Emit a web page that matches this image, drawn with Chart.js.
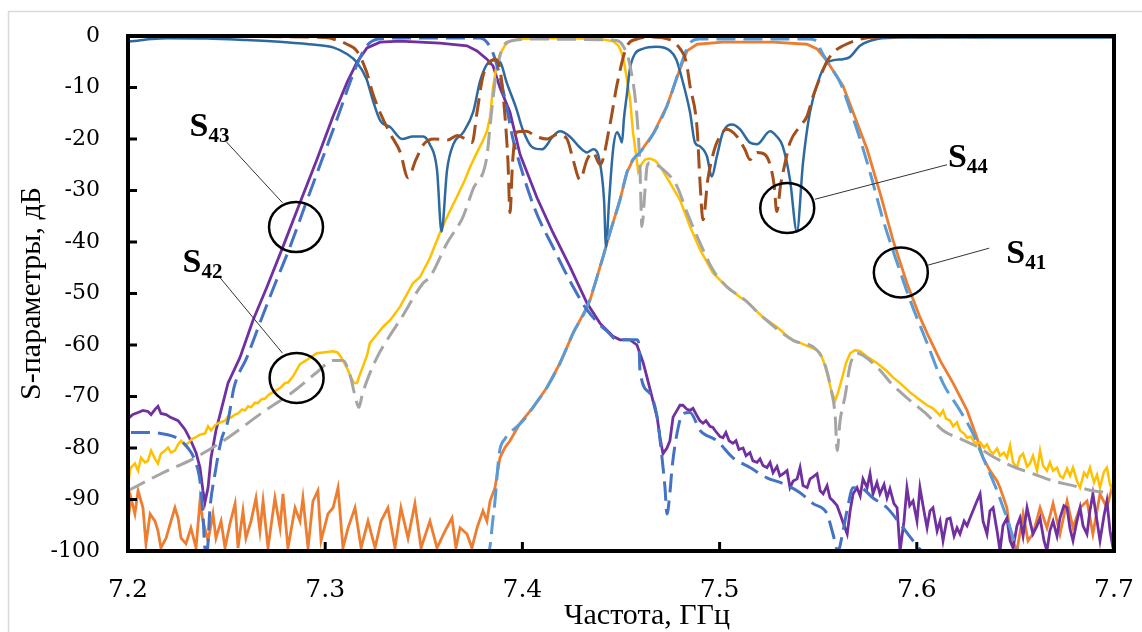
<!DOCTYPE html>
<html><head><meta charset="utf-8">
<script src="https://cdn.jsdelivr.net/npm/chart.js@4"></script>
<style>html,body{margin:0;padding:0;background:#fff;}#wrap{position:relative;width:1142px;height:632px;}</style>
</head><body><div id="wrap"><canvas id="c" width="1142" height="632"></canvas></div>
<script>
// ---- axis ticks ----
const xTicks = [7.2, 7.3, 7.4, 7.5, 7.6, 7.7];
const yTicks = [0, -10, -20, -30, -40, -50, -60, -70, -80, -90, -100];

// ---- S44 measured [GHz, dB] ----
const s44Meas = [[7.200,-1.1],[7.205,-0.9],[7.212,-0.6],[7.220,-0.45],[7.240,-0.5],[7.260,-0.8],[7.280,-1.2],[7.295,-1.7],[7.304,-2.2],[7.311,-3.5],[7.316,-5.1],[7.321,-8.4],[7.324,-12.3],[7.328,-16.5],[7.333,-17.7],[7.339,-20],[7.3445,-19.5],[7.3496,-19.5],[7.353,-21],[7.3567,-26],[7.359,-38],[7.3618,-26],[7.365,-21],[7.370,-18.7],[7.375,-14.8],[7.3785,-8.8],[7.382,-5.5],[7.385,-4.7],[7.3886,-5],[7.392,-9],[7.397,-14.2],[7.400,-18],[7.405,-21.6],[7.410,-22],[7.4155,-19.5],[7.419,-18.5],[7.424,-19.5],[7.429,-21.6],[7.4328,-22.6],[7.436,-22],[7.439,-24],[7.4414,-31.8],[7.4424,-41],[7.444,-31.8],[7.446,-22],[7.448,-18.7],[7.4495,-19.7],[7.4505,-20.7],[7.4515,-16],[7.453,-11.3],[7.4545,-6.4],[7.457,-3.5],[7.461,-2.5],[7.468,-2.1],[7.475,-2.9],[7.478,-4.5],[7.481,-8.4],[7.485,-14.8],[7.4875,-20.7],[7.490,-21.4],[7.4936,-23.4],[7.496,-27.3],[7.4986,-23.4],[7.5017,-18.7],[7.5063,-17.2],[7.5103,-18.1],[7.5154,-20.7],[7.519,-21],[7.5256,-18.5],[7.529,-19.5],[7.532,-21.4],[7.5357,-27.9],[7.5392,-38],[7.5423,-24.6],[7.5458,-14.8],[7.5509,-7.8],[7.555,-5.1],[7.5626,-4.5],[7.566,-4.1],[7.5712,-1.9],[7.580,-0.6],[7.5915,-0.3],[7.650,-0.3],[7.700,-0.3]];

// ---- S44 simulated ----
const s44Sim = [[7.200,-0.1],[7.250,-0.1],[7.300,-0.3],[7.306,-0.8],[7.311,-1.6],[7.316,-2.9],[7.321,-7],[7.324,-11],[7.328,-15],[7.333,-19],[7.338,-22.5],[7.342,-27.5],[7.346,-24],[7.350,-21],[7.355,-20],[7.362,-20.2],[7.367,-19.3],[7.370,-19.8],[7.3745,-20.7],[7.377,-14.8],[7.380,-7.8],[7.3835,-5.1],[7.386,-4.5],[7.3886,-6.4],[7.391,-14.8],[7.3927,-24.6],[7.3937,-34.3],[7.395,-24.6],[7.397,-18.7],[7.402,-18.5],[7.407,-19.5],[7.4125,-20],[7.4176,-19.1],[7.4226,-20],[7.4257,-24],[7.4292,-27.9],[7.4328,-24],[7.4358,-22.6],[7.4394,-25],[7.4444,-17.2],[7.448,-9.4],[7.453,-2],[7.458,-0.6],[7.4647,-0.2],[7.474,-0.6],[7.480,-2.5],[7.483,-4.9],[7.485,-9.7],[7.4886,-18],[7.490,-27.9],[7.4916,-35.7],[7.494,-27.9],[7.496,-24],[7.4986,-20.7],[7.5037,-18.1],[7.5088,-19.5],[7.5128,-22],[7.5154,-24],[7.519,-22.6],[7.523,-23],[7.5256,-25],[7.5276,-28.8],[7.529,-34.1],[7.531,-28.8],[7.533,-25],[7.5357,-20.7],[7.5408,-17.5],[7.5443,-15.6],[7.5474,-11.7],[7.551,-8],[7.5545,-4.9],[7.5585,-2.9],[7.5626,-1.9],[7.5712,-0.6],[7.580,-0.2],[7.700,-0.1]];

// ---- S41 measured ----
const s41Meas = [[7.2000,-94.2],[7.2015,-89.7],[7.2035,-92.8],[7.2051,-88.3],[7.2076,-91.6],[7.2091,-98.6],[7.2112,-92.8],[7.2137,-94.2],[7.2152,-96.1],[7.2167,-99.4],[7.2193,-97.5],[7.2218,-94.2],[7.2238,-91.6],[7.2254,-93.6],[7.2269,-97.5],[7.2294,-98.6],[7.2319,-95.5],[7.2345,-99.4],[7.2365,-90.3],[7.2380,-94.2],[7.2406,-98],[7.2431,-92.8],[7.2446,-97.5],[7.2472,-94.2],[7.2492,-99.4],[7.2517,-94.7],[7.2543,-90.8],[7.2558,-99.4],[7.2583,-92.2],[7.2598,-97.5],[7.2624,-94.2],[7.2649,-89.7],[7.2669,-96.1],[7.2685,-90.3],[7.2710,-99.4],[7.2745,-89.7],[7.2771,-95.5],[7.2786,-88.9],[7.2811,-99.4],[7.2847,-91.6],[7.2872,-94.2],[7.2887,-89.7],[7.2913,-99.4],[7.2938,-90.3],[7.2963,-88.3],[7.2979,-98],[7.3014,-92.8],[7.3040,-91.6],[7.3065,-87.7],[7.3090,-99.4],[7.3116,-95.5],[7.3151,-91.6],[7.3182,-99.4],[7.3217,-94.2],[7.3253,-99.4],[7.3283,-94.2],[7.3318,-91.6],[7.3354,-99.4],[7.3384,-91.6],[7.3420,-97.5],[7.3455,-90.8],[7.3486,-99.4],[7.3531,-94.2],[7.3567,-99.4],[7.3608,-96.1],[7.3643,-93.6],[7.3663,-99.4],[7.3684,-95.5],[7.3719,-96.7],[7.3744,-99.4],[7.3770,-95.5],[7.3800,-92.2],[7.3820,-94.2],[7.3836,-90.3],[7.3861,-87.7],[7.3886,-81.9],[7.3912,-79.9],[7.3937,-78.6],[7.3988,-75.2],[7.4054,-72.1],[7.4125,-68.2],[7.4191,-63.5],[7.4257,-57.7],[7.4328,-52.6],[7.4343,-51.3],[7.4409,-42.9],[7.4444,-38.2],[7.4495,-31.8],[7.4530,-26.5],[7.4561,-24],[7.4596,-22.6],[7.4662,-19.1],[7.4733,-13.6],[7.4799,-6.4],[7.4835,-2.9],[7.4886,-1.6],[7.5017,-1.2],[7.5271,-1.2],[7.5443,-1.6],[7.5494,-2.5],[7.5545,-4.9],[7.5626,-9.7],[7.5677,-14.8],[7.5748,-22],[7.5813,-30.4],[7.5879,-39.6],[7.5950,-48],[7.6016,-54.6],[7.6052,-57.7],[7.6118,-63],[7.6184,-67.4],[7.6255,-72.7],[7.6305,-78],[7.6336,-81.9],[7.6371,-84.4],[7.6407,-86.4],[7.6422,-87.7],[7.6457,-91.6],[7.6473,-96.7],[7.6508,-100],[7.6539,-92.8],[7.6564,-98],[7.6589,-96.7],[7.6625,-91.6],[7.6660,-95.5],[7.6691,-90.8],[7.6726,-96.7],[7.6762,-90.3],[7.6792,-95.5],[7.6828,-91.6],[7.6863,-90.3],[7.6893,-96.7],[7.6929,-88.9],[7.6964,-91.6],[7.6995,-86.9]];

// ---- S41 simulated ----
const s41Sim = [[7.200,-100],[7.383,-100],[7.3850,-94],[7.3861,-90.3],[7.3876,-83.4],[7.3886,-80.3],[7.3912,-78.2],[7.3937,-77],[7.3962,-76.2],[7.4003,-74.7],[7.4054,-72.1],[7.4125,-68.2],[7.4191,-63.5],[7.4257,-57.7],[7.4328,-52.6],[7.4409,-42.9],[7.4444,-38.2],[7.4495,-31.8],[7.4530,-26.5],[7.4561,-24],[7.4596,-22.6],[7.4662,-19.1],[7.4733,-13.6],[7.4799,-6.2],[7.4835,-2.4],[7.4860,-1.0],[7.4900,-0.6],[7.5450,-0.6],[7.5494,-1.0],[7.5510,-2.5],[7.5560,-5.8],[7.5611,-9],[7.5661,-14.2],[7.5712,-20],[7.5763,-26.5],[7.5829,-35.7],[7.5900,-44],[7.5966,-51.3],[7.6052,-59.6],[7.6133,-67.4],[7.6219,-72.7],[7.6285,-77.2],[7.6336,-81.9],[7.6407,-88.3],[7.6457,-93.6],[7.6523,-100],[7.700,-100]];

// ---- S42 measured ----
const s42Meas = [[7.2000,-87.7],[7.2010,-84.4],[7.2015,-83.8],[7.2035,-83],[7.2051,-84.4],[7.2066,-81.9],[7.2086,-82.8],[7.2101,-82.5],[7.2117,-80.5],[7.2137,-82.1],[7.2152,-83],[7.2167,-81.1],[7.2188,-80.5],[7.2203,-79.9],[7.2218,-80.9],[7.2238,-80.5],[7.2254,-79.3],[7.2269,-78.6],[7.2289,-79.5],[7.2304,-79.1],[7.2325,-78.2],[7.2340,-78],[7.2365,-77.4],[7.2390,-77.2],[7.2406,-75.8],[7.2421,-76.6],[7.2441,-75.6],[7.2456,-75.2],[7.2477,-74.9],[7.2492,-74.7],[7.2507,-73.9],[7.2522,-74.1],[7.2543,-73.5],[7.2558,-73.3],[7.2578,-72.5],[7.2593,-72.7],[7.2609,-71.9],[7.2624,-72.1],[7.2644,-71.2],[7.2659,-71.3],[7.2674,-70.6],[7.2695,-70.4],[7.2710,-69.8],[7.2725,-69.4],[7.2751,-68.8],[7.2776,-68.2],[7.2796,-67.4],[7.2811,-67.3],[7.2837,-66.1],[7.2872,-63.7],[7.2903,-63],[7.2933,-62.2],[7.2958,-61.6],[7.2999,-61.4],[7.3040,-61.2],[7.3060,-61.4],[7.3075,-62],[7.3095,-63.4],[7.3111,-64.5],[7.3131,-66.3],[7.3146,-67.4],[7.3161,-67.4],[7.3176,-65.7],[7.3192,-64.1],[7.3212,-62],[7.3227,-59.6],[7.3263,-57.9],[7.3293,-56.5],[7.3329,-55.2],[7.3379,-52.6],[7.3445,-48],[7.3481,-46.8],[7.3531,-43.1],[7.3582,-38.2],[7.3623,-34.7],[7.3668,-31.2],[7.3709,-27.9],[7.3734,-25.5],[7.3770,-22.6],[7.3800,-20.3],[7.3820,-18.5],[7.3836,-15.8],[7.3851,-10],[7.3866,-6.4],[7.3886,-3.5],[7.3912,-1.8],[7.3937,-1],[7.3988,-0.6],[7.4191,-0.4],[7.4394,-0.6],[7.4459,-1],[7.4485,-1.8],[7.4500,-2.9],[7.4515,-4.9],[7.4530,-8.4],[7.4546,-12.3],[7.4561,-18.7],[7.4576,-23],[7.4587,-26.3],[7.4602,-25],[7.4622,-24],[7.4647,-23.8],[7.4673,-24.2],[7.4698,-25.3],[7.4749,-28.5],[7.4799,-31.8],[7.4850,-37],[7.4901,-41.5],[7.4966,-46],[7.5037,-48.7],[7.5103,-50.7],[7.5139,-51.5],[7.5180,-53.2],[7.5220,-54.6],[7.5256,-55.6],[7.5291,-56.5],[7.5332,-57.9],[7.5373,-59.1],[7.5408,-59.6],[7.5459,-60.4],[7.5494,-61],[7.5510,-61.6],[7.5530,-63.5],[7.5545,-65.5],[7.5566,-68.8],[7.5586,-70.8],[7.5601,-69.2],[7.5622,-66.3],[7.5642,-63.4],[7.5662,-61.6],[7.5687,-61],[7.5713,-61.2],[7.5753,-62.4],[7.5798,-63.5],[7.5849,-65.1],[7.5879,-66.3],[7.5915,-67.4],[7.5966,-69.2],[7.6006,-70.4],[7.6052,-71.7],[7.6082,-72.3],[7.6103,-73.1],[7.6118,-73.7],[7.6133,-72.7],[7.6148,-74.3],[7.6169,-74.7],[7.6184,-75.8],[7.6204,-75],[7.6219,-76.6],[7.6240,-77.2],[7.6255,-78],[7.6275,-77.8],[7.6290,-78.8],[7.6305,-79.1],[7.6321,-78.9],[7.6341,-79.9],[7.6356,-79.3],[7.6371,-80.5],[7.6387,-81.1],[7.6407,-80.1],[7.6422,-81.5],[7.6442,-80.9],[7.6457,-81.9],[7.6473,-79.5],[7.6488,-82.8],[7.6508,-83.8],[7.6523,-81.7],[7.6539,-81.1],[7.6559,-83.6],[7.6574,-83],[7.6589,-81.5],[7.6610,-84.4],[7.6625,-80.5],[7.6640,-83.4],[7.6660,-84.4],[7.6675,-82.8],[7.6691,-84.4],[7.6711,-83.8],[7.6726,-85.4],[7.6742,-85.8],[7.6762,-84],[7.6777,-85.4],[7.6792,-83.8],[7.6812,-86.4],[7.6828,-87.7],[7.6848,-84.8],[7.6863,-85.6],[7.6878,-83.8],[7.6899,-86.7],[7.6914,-85.2],[7.6929,-87.7],[7.6949,-84.6],[7.6964,-83.8],[7.6980,-87.1],[7.6995,-88.3]];

// ---- S42 simulated ----
const s42Sim = [[7.2000,-88.3],[7.2167,-85],[7.2340,-81.9],[7.2507,-78],[7.2674,-73.3],[7.2847,-68.8],[7.2958,-65.3],[7.3040,-63],[7.3090,-63],[7.3126,-65.9],[7.3151,-69.8],[7.3171,-72.1],[7.3187,-69.8],[7.3212,-66.9],[7.3263,-62.4],[7.3329,-58.1],[7.3379,-55.2],[7.3496,-48],[7.3531,-46.8],[7.3618,-40.2],[7.3699,-35.1],[7.3749,-29.8],[7.3820,-23.4],[7.3836,-17.5],[7.3861,-9],[7.3886,-3.9],[7.3922,-1.2],[7.4039,-0.6],[7.4459,-0.8],[7.4510,-1.9],[7.4546,-5.8],[7.4581,-15.6],[7.4596,-25.3],[7.4606,-37],[7.4622,-29.8],[7.4632,-25.3],[7.4647,-24.6],[7.4713,-25.9],[7.4784,-29.2],[7.4835,-34.3],[7.4901,-40.2],[7.4966,-45.4],[7.5037,-48.7],[7.5129,-51.3],[7.5220,-54.6],[7.5373,-59.1],[7.5494,-61],[7.5535,-63.9],[7.5566,-68.8],[7.5586,-73.7],[7.5596,-80.5],[7.5611,-74.7],[7.5637,-69.8],[7.5662,-63.9],[7.5697,-61.6],[7.5798,-64.3],[7.5879,-67.8],[7.5966,-70.8],[7.6052,-73.5],[7.6133,-76.6],[7.6219,-78.2],[7.6305,-79.7],[7.6387,-81.7],[7.6488,-83.6],[7.6589,-85],[7.6691,-86.4],[7.6792,-87.3],[7.6893,-88.3],[7.6995,-88.7]];

// ---- S43 measured ----
const s43Meas = [[7.2000,-74.3],[7.2025,-73.5],[7.2051,-73.1],[7.2076,-72.7],[7.2101,-72.9],[7.2117,-73.5],[7.2137,-72.5],[7.2152,-71.9],[7.2167,-73.3],[7.2193,-73.5],[7.2218,-74.1],[7.2254,-74.7],[7.2289,-76.4],[7.2319,-78.6],[7.2345,-80.9],[7.2365,-83.8],[7.2380,-88.3],[7.2390,-90.6],[7.2406,-87.7],[7.2421,-81.9],[7.2446,-76.6],[7.2472,-72.7],[7.2507,-67.4],[7.2568,-62.4],[7.2634,-55.2],[7.2705,-48.7],[7.2786,-40.9],[7.2872,-32.4],[7.2958,-24],[7.3040,-15.6],[7.3111,-9],[7.3161,-5.1],[7.3212,-2.3],[7.3278,-1.2],[7.3379,-1.0],[7.3582,-1.4],[7.3719,-1.9],[7.3770,-2.9],[7.3820,-4.5],[7.3851,-5.8],[7.3886,-10],[7.3937,-14.8],[7.3988,-23],[7.4074,-31.4],[7.4155,-38.2],[7.4241,-44.8],[7.4328,-51.9],[7.4394,-55.8],[7.4459,-58.3],[7.4495,-59],[7.4546,-59],[7.4581,-60],[7.4612,-63.4],[7.4632,-66.3],[7.4662,-70.8],[7.4683,-74],[7.4698,-78],[7.4713,-81.1],[7.4733,-80],[7.4748,-78.6],[7.4764,-74],[7.4784,-72.7],[7.4799,-71.7],[7.4814,-71.7],[7.4835,-72.5],[7.4850,-72.7],[7.4865,-72.3],[7.4885,-73.7],[7.4900,-74.7],[7.4916,-75.2],[7.4931,-74.7],[7.4951,-75.8],[7.4966,-76],[7.4981,-76.8],[7.5002,-77.8],[7.5017,-78],[7.5032,-77],[7.5048,-78.6],[7.5068,-79.1],[7.5083,-78.6],[7.5098,-80.3],[7.5119,-80],[7.5134,-81.5],[7.5154,-80.9],[7.5169,-82.5],[7.5190,-82.8],[7.5205,-82.1],[7.5220,-83.4],[7.5240,-83.8],[7.5256,-82.8],[7.5271,-84.8],[7.5291,-83.6],[7.5306,-85.4],[7.5322,-85],[7.5342,-84.4],[7.5357,-87.7],[7.5373,-86.4],[7.5393,-86],[7.5408,-83.8],[7.5423,-87.3],[7.5444,-87.7],[7.5459,-86],[7.5474,-85.6],[7.5494,-85],[7.5510,-88.3],[7.5525,-88.9],[7.5545,-87.3],[7.5560,-89.7],[7.5576,-90.3],[7.5596,-91.2],[7.5611,-92.8],[7.5632,-95.1],[7.5647,-96.7],[7.5662,-92.2],[7.5677,-88.9],[7.5697,-87.7],[7.5713,-89.3],[7.5727,-86],[7.5748,-87.7],[7.5763,-85],[7.5778,-88.9],[7.5798,-86.7],[7.5813,-88.9],[7.5834,-87.1],[7.5849,-89.7],[7.5864,-87.9],[7.5884,-90.8],[7.5900,-91.6],[7.5915,-100],[7.5935,-94.2],[7.5950,-87.7],[7.5964,-91.2],[7.5981,-90.3],[7.6001,-94.2],[7.6016,-87.7],[7.6037,-92.4],[7.6052,-95.5],[7.6067,-92.2],[7.6082,-91.6],[7.6103,-96.1],[7.6118,-94.2],[7.6133,-98],[7.6153,-93.8],[7.6169,-93.6],[7.6189,-97.1],[7.6204,-95.5],[7.6219,-96.7],[7.6240,-94.2],[7.6255,-95.1],[7.6270,-93.6],[7.6285,-92.2],[7.6305,-90.3],[7.6321,-88.9],[7.6336,-94.2],[7.6356,-96.7],[7.6371,-92.2],[7.6387,-91.6],[7.6407,-96.1],[7.6422,-100],[7.6437,-95.1],[7.6457,-93.6],[7.6473,-98],[7.6488,-99.4],[7.6508,-95.1],[7.6523,-93.6],[7.6539,-97.1],[7.6559,-91.6],[7.6574,-94.2],[7.6589,-96.7],[7.6610,-95.1],[7.6625,-93.6],[7.6645,-98],[7.6660,-100],[7.6675,-96.1],[7.6691,-94.2],[7.6711,-97.1],[7.6726,-93.6],[7.6746,-91.2],[7.6762,-91.6],[7.6777,-95.7],[7.6792,-98],[7.6812,-94.2],[7.6828,-91.6],[7.6843,-95.1],[7.6863,-96.7],[7.6878,-92.2],[7.6893,-88.9],[7.6914,-94.2],[7.6929,-98],[7.6949,-93.2],[7.6964,-90.3],[7.6980,-96.1],[7.6995,-99.4]];

// ---- S43 simulated ----
const s43Sim = [[7.2015,-77],[7.2101,-77],[7.2167,-77.2],[7.2254,-78.2],[7.2304,-80],[7.2340,-82.5],[7.2365,-86.4],[7.2380,-92.8],[7.2390,-99.4],[7.2401,-100],[7.2416,-91.6],[7.2441,-85],[7.2472,-78.6],[7.2507,-74.7],[7.2538,-68.2],[7.2603,-62.4],[7.2674,-55.2],[7.2740,-48.7],[7.2822,-40.9],[7.2903,-32.4],[7.2984,-24],[7.3065,-15.6],[7.3126,-9],[7.3166,-5.1],[7.3207,-2.1],[7.3268,-0.6],[7.3379,-0.4],[7.3785,-0.4],[7.3836,-2.1],[7.3866,-5],[7.3912,-12.3],[7.3952,-20],[7.3988,-25],[7.4064,-33.7],[7.4155,-41],[7.4257,-48.7],[7.4328,-53.2],[7.4394,-56.1],[7.4429,-57.3],[7.4480,-59],[7.4581,-59],[7.4591,-60],[7.4596,-64.9],[7.4647,-69.4],[7.4683,-74],[7.4708,-81.9],[7.4723,-87.7],[7.4733,-92.8],[7.4749,-88.3],[7.4759,-83.8],[7.4784,-77.2],[7.4814,-73.3],[7.4850,-73.1],[7.4901,-76.6],[7.4987,-78.6],[7.5068,-81.9],[7.5154,-83.8],[7.5240,-85.8],[7.5322,-86.9],[7.5408,-88.7],[7.5474,-90.8],[7.5545,-92.8],[7.5575,-96.7],[7.5600,-100],[7.5626,-96.1],[7.5646,-92.2],[7.5677,-87.7],[7.5712,-87.7],[7.5778,-89.7],[7.5849,-91.6],[7.5915,-94.7],[7.5981,-98],[7.6032,-100],[7.7000,-100]];

// ---- callouts (data coordinates) ----
const callouts = [
  {label:'43', text:[7.2312,-19.4], from:[7.2500,-20.6], to:[7.2784,-32.4], ring:[7.2852,-37.1]},
  {label:'42', text:[7.2277,-45.8], from:[7.2464,-46.8], to:[7.2784,-61.6], ring:[7.2855,-66.4]},
  {label:'44', text:[7.6158,-25.4], from:[7.6153,-25.0], to:[7.5483,-31.7], ring:[7.5343,-33.4]},
  {label:'41', text:[7.6454,-44.1], from:[7.6367,-41.2], to:[7.6056,-44.5], ring:[7.5919,-45.9]}
];
const xTitle = 'Частота, ГГц';
const yTitle = 'S-параметры, дБ';

const toXY = a => a.map(p => ({x: p[0], y: p[1]}));
const SERIF = '"Liberation Serif", "Times New Roman", serif';
const TICKFONT = '"DejaVu Serif", "Liberation Serif", serif';

const framePlugin = {
  id: 'frame',
  beforeDraw(chart) {
    const ctx = chart.ctx;
    ctx.save();
    ctx.strokeStyle = '#d9d9d9';
    ctx.lineWidth = 1.5;
    ctx.strokeRect(8.5, 11.5, 1300, 800);
    ctx.restore();
  },
  afterDatasetsDraw(chart) {
    const {ctx, chartArea: a, scales: {x, y}} = chart;
    ctx.save();
    ctx.strokeStyle = '#333';
    ctx.lineWidth = 1;
    callouts.forEach(c => {
      ctx.beginPath();
      ctx.moveTo(x.getPixelForValue(c.from[0]), y.getPixelForValue(c.from[1]));
      ctx.lineTo(x.getPixelForValue(c.to[0]), y.getPixelForValue(c.to[1]));
      ctx.stroke();
    });
    ctx.strokeStyle = '#000';
    ctx.lineWidth = 2.5;
    callouts.forEach(c => {
      ctx.beginPath();
      ctx.ellipse(x.getPixelForValue(c.ring[0]), y.getPixelForValue(c.ring[1]), 27, 25, 0, 0, Math.PI * 2);
      ctx.stroke();
    });
    ctx.fillStyle = '#000';
    ctx.textBaseline = 'alphabetic';
    ctx.textAlign = 'left';
    callouts.forEach(c => {
      const px = x.getPixelForValue(c.text[0]);
      const py = y.getPixelForValue(c.text[1]);
      ctx.font = 'bold 34px ' + SERIF;
      ctx.fillText('S', px, py);
      const w = ctx.measureText('S').width;
      ctx.font = 'bold 21px ' + SERIF;
      ctx.fillText(c.label, px + w, py + 6);
    });
    ctx.font = '30px ' + SERIF;
    ctx.textAlign = 'center';
    ctx.fillText(xTitle, 647, 624);
    ctx.strokeStyle = '#000';
    ctx.lineWidth = 3;
    xTicks.forEach(v => {
      const px = x.getPixelForValue(v);
      ctx.beginPath(); ctx.moveTo(px, a.bottom); ctx.lineTo(px, a.bottom - 9); ctx.stroke();
    });
    yTicks.forEach(v => {
      const py = y.getPixelForValue(v);
      ctx.beginPath(); ctx.moveTo(a.left, py); ctx.lineTo(a.left + 9, py); ctx.stroke();
    });
    ctx.lineWidth = 4;
    ctx.strokeRect(a.left, a.top, a.right - a.left, a.bottom - a.top);
    ctx.restore();
  }
};

function solid(label, data, color, order, smooth, width) {
  return {label, data: toXY(data), showLine: true, borderColor: color, backgroundColor: color,
    borderWidth: width || 2.5, pointRadius: 0, order, tension: 0,
    cubicInterpolationMode: smooth ? 'monotone' : 'default'};
}
function dashed(label, data, color, order) {
  return {label, data: toXY(data), showLine: true, borderColor: color, backgroundColor: color,
    borderWidth: 3, borderDash: [19, 8], pointRadius: 0, order, cubicInterpolationMode: 'monotone'};
}

new Chart(document.getElementById('c'), {
  type: 'scatter',
  data: {
    datasets: [
      dashed('S44 sim', s44Sim, '#a24f1c', 1),
      dashed('S43 sim', s43Sim, '#4472C4', 2),
      dashed('S41 sim', s41Sim, '#5B9BD5', 3),
      dashed('S42 sim', s42Sim, '#A5A5A5', 4),
      solid('S44', s44Meas, '#2e6aa0', 5, true, 2.5),
      solid('S42', s42Meas, '#FFC000', 6, false, 2.5),
      solid('S43', s43Meas, '#7030A0', 7, false, 2.8),
      solid('S41', s41Meas, '#ED7D31', 8, false, 2.8)
    ]
  },
  options: {
    responsive: false,
    animation: false,
    devicePixelRatio: 1,
    layout: {padding: {top: 36, right: 28, left: 0, bottom: 0}},
    plugins: {legend: {display: false}, tooltip: {enabled: false}},
    scales: {
      x: {
        type: 'linear', min: 7.2, max: 7.7,
        grid: {display: false, drawTicks: false},
        border: {display: false},
        afterBuildTicks: s => { s.ticks = xTicks.map(v => ({value: v})); },
        afterFit: s => { s.height = 81; s.paddingLeft = 0; s.paddingRight = 0; },
        ticks: {padding: 24, color: '#000', maxRotation: 0, autoSkip: false,
          font: {family: TICKFONT, size: 25}, callback: v => Number(v).toFixed(1)},
        title: {display: false}
      },
      y: {
        min: -100, max: 0,
        grid: {display: false, drawTicks: false},
        border: {display: false},
        afterBuildTicks: s => { s.ticks = yTicks.map(v => ({value: v})); },
        afterFit: s => { s.width = 128; s.paddingTop = 0; s.paddingBottom = 0; },
        ticks: {padding: 28, color: '#000', autoSkip: false,
          font: {family: TICKFONT, size: 22}, callback: v => String(v)},
        title: {display: true, text: yTitle, color: '#000',
          font: {family: SERIF, size: 30, lineHeight: 1.2}, padding: {top: 14, bottom: 0}}
      }
    }
  },
  plugins: [framePlugin]
});
</script>
</body></html>
